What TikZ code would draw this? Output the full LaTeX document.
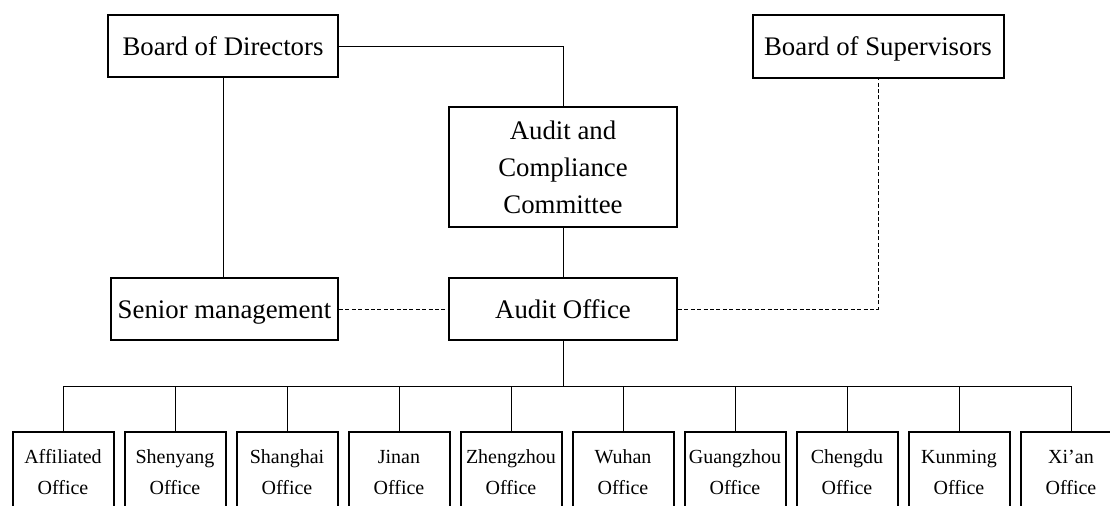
\documentclass[tikz,border=0pt]{standalone}
\usepackage{fontspec}
\setmainfont{Liberation Serif}
\begin{document}
\begin{tikzpicture}
                        [x=0.5pt,y=-0.5pt,
                        box/.style={draw,line width=1pt,inner sep=0pt,align=center,font=\fontsize{13.4}{18.5}\selectfont},
                        single/.style={box,text height=10pt,text depth=1pt},
                        office/.style={draw,line width=1pt,inner sep=0pt,align=center,minimum width=50.5pt,minimum height=40.5pt,font=\fontsize{10}{15.5}\selectfont},
                        link/.style={line width=0.5pt},
                        dotlink/.style={line width=0.5pt,dash pattern=on 2pt off 1.2pt}]
                        \useasboundingbox (0,0) rectangle (1110,505);
                        %Leitung
                        \node [single,minimum width=115pt,minimum height=31pt] (Dir) at (223,46) {Board of Directors};
                        \node [single,minimum width=125.5pt,minimum height=31.5pt] (Sup) at (878,46) {Board of Supervisors};
                        \node [box,minimum width=114pt,minimum height=60pt] (Acc) at (563,167) {Audit and\\Compliance\\Committee};
                        \node [single,minimum width=113.5pt,minimum height=31pt] (Sen) at (224.5,309) {Senior management};
                        \node [single,minimum width=114pt,minimum height=31pt] (Aud) at (563,309) {Audit Office};
                        %Verbindungen
                        \draw [link] (Dir.east) -| (Acc.north);
                        \draw [link] (Dir.south) -- (Dir.south |- Sen.north);
                        \draw [link] (Acc.south) -- (Aud.north);
                        \draw [dotlink] (Sen.east) -- (Aud.west);
                        \draw [dotlink] (Aud.east) -| (Sup.south);
                        \coordinate (Bus) at (563,386);
                        \draw [link] (Aud.south) -- (Bus);
                        %Geschaeftsstellen
                        \foreach \name [count=\i from 0] in {Affiliated,Shenyang,Shanghai,Jinan,Zhengzhou,Wuhan,Guangzhou,Chengdu,Kunming,Xi’an}
                        {
                        \node [office] (Off\i) at (63+112*\i,472.5) {\name\\Office};
                        \draw [link] (Off\i.north) -- (Off\i.north |- Bus);
                        }
                        \draw [link] (Off0.north |- Bus) -- (Off9.north |- Bus);
                \end{tikzpicture}
\end{document}
